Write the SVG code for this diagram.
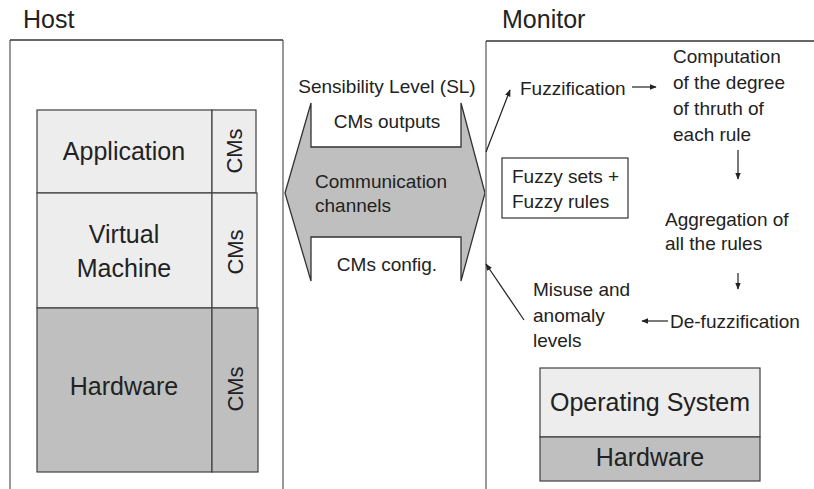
<svg xmlns="http://www.w3.org/2000/svg" width="814" height="489" viewBox="0 0 814 489">
<defs>
<style>
text{font-family:"Liberation Sans",Arial,sans-serif;fill:#222}
.h{font-size:25px}
.big{font-size:25px}
.cms{font-size:22px}
.m{font-size:19px}
.mid{text-anchor:middle}
.light{fill:#ededed;stroke:#404040;stroke-width:1.2}
.dark{fill:#bfbfbf;stroke:#404040;stroke-width:1.2}
.side{stroke:#999;stroke-width:2;fill:none}
.top{stroke:#333;stroke-width:1.5;fill:none}
.conn{stroke:#222;stroke-width:1.2;fill:none;marker-end:url(#ah)}
</style>
<marker id="ah" viewBox="0 0 10 10" refX="9" refY="5" markerWidth="7" markerHeight="7" markerUnits="userSpaceOnUse" orient="auto">
<path d="M0,1 L10,5 L0,9 z" fill="#222"/>
</marker>
</defs>

<g id="host">
<text class="h" x="23" y="28">Host</text>
<path class="side" d="M10,40 V489 M283,40 V489"/>
<path class="top" d="M10,40 H283"/>
</g>

<g id="application">
<rect class="light" x="37" y="110" width="175" height="83"/>
<rect class="light" x="212" y="110" width="44" height="83"/>
<text class="big mid" x="124" y="160">Application</text>
<text class="cms mid" transform="translate(234,151) rotate(-90)" dy="0.36em">CMs</text>
</g>

<g id="virtual-machine">
<rect class="light" x="37" y="193" width="175" height="115"/>
<rect class="light" x="212" y="193" width="45" height="115"/>
<text class="big mid" x="124" y="243">Virtual</text>
<text class="big mid" x="124" y="277">Machine</text>
<text class="cms mid" transform="translate(235,252) rotate(-90)" dy="0.36em">CMs</text>
</g>

<g id="hardware-host">
<rect class="dark" x="37" y="308" width="175" height="164"/>
<rect class="dark" x="212" y="308" width="46" height="164"/>
<text class="big mid" x="124" y="395">Hardware</text>
<text class="cms mid" transform="translate(235,389) rotate(-90)" dy="0.36em">CMs</text>
</g>

<g id="communication-channels">
<polygon points="285,193 311,103 311,147 461,147 461,103 485,193 461,281 461,237 311,237 311,281" fill="#bfbfbf" stroke="#333" stroke-width="1.3"/>
<text class="m mid" x="387" y="93">Sensibility Level (SL)</text>
<text class="m mid" x="387" y="128">CMs outputs</text>
<text class="m" x="315" y="188">Communication</text>
<text class="m" x="315" y="212">channels</text>
<text class="m mid" x="387" y="271">CMs config.</text>
</g>

<g id="monitor">
<text class="h" x="502" y="28">Monitor</text>
<path class="side" d="M486,41 V489"/>
<path class="top" d="M486,41 H814"/>
</g>

<g id="fuzzification"><text class="m" x="520" y="95">Fuzzification</text></g>
<g id="computation">
<text class="m" x="673" y="63">Computation</text>
<text class="m" x="673" y="89">of the degree</text>
<text class="m" x="673" y="115">of thruth of</text>
<text class="m" x="673" y="141">each rule</text>
</g>
<g id="fuzzy-sets">
<rect x="502" y="158" width="126" height="60" fill="#fff" stroke="#333" stroke-width="1.2"/>
<text class="m" x="512" y="183">Fuzzy sets +</text>
<text class="m" x="512" y="208">Fuzzy rules</text>
</g>
<g id="aggregation">
<text class="m" x="665" y="226">Aggregation of</text>
<text class="m" x="665" y="250">all the rules</text>
</g>
<g id="defuzzification"><text class="m" x="670" y="328">De-fuzzification</text></g>
<g id="misuse">
<text class="m" x="533" y="296">Misuse and</text>
<text class="m" x="533" y="322">anomaly</text>
<text class="m" x="533" y="347">levels</text>
</g>
<g id="os-stack">
<rect class="light" x="540" y="368" width="220" height="69"/>
<rect class="dark" x="540" y="437" width="220" height="44"/>
<text class="big mid" x="650" y="411">Operating System</text>
<text class="big mid" x="650" y="466">Hardware</text>
</g>

<g id="connectors">
<path class="conn" d="M486,152 L510,90"/>
<path class="conn" d="M632,87 H656"/>
<path class="conn" d="M738,150 V179"/>
<path class="conn" d="M738,273 V289"/>
<path class="conn" d="M668,321 H642"/>
<path class="conn" d="M524,320 L486,264"/>
</g>
</svg>
